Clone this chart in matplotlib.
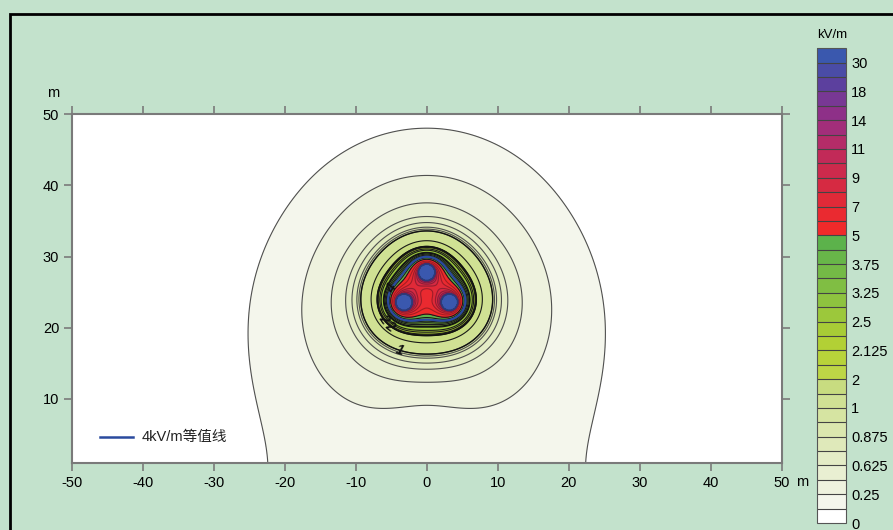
import numpy as np
import matplotlib
matplotlib.use('Agg')
import matplotlib.pyplot as plt
from matplotlib.patches import Rectangle
from matplotlib.colors import to_rgb

plt.rcParams['font.family'] = ['Liberation Sans', 'Noto Sans CJK SC']
plt.rcParams['axes.unicode_minus'] = False

# three-phase line: conductor positions (m) and phase angles (deg)
cond_x = [0.0, -3.2, 3.2]
cond_y = [27.8, 23.6, 23.6]
cond_phase = [0, 120, 240]
cond_radius = 1.15     # m
line_charge = 11.85    # kV  (lambda / 2 pi eps0)
cond_field = 35.0      # value shown inside the conductors
ellipse_smooth = 0.35  # rounds off the cusps where the field is circularly polarised

# colour scale, kV/m
tick_levels = [0, 0.25, 0.625, 0.875, 1, 2, 2.125, 2.5, 3.25, 3.75, 5, 7, 9, 11, 14, 18, 30]
mid_levels = [0.125, 0.4375, 0.75, 0.9375, 1.5, 2.0625, 2.3125, 2.875, 3.5, 4.375,
              6, 8, 10, 12.5, 16, 24, 40]
levels = sorted(tick_levels + mid_levels)
band_colors = ['#ffffff', '#f4f6ec', '#eef2de', '#e9efd2', '#e4ecc6', '#dfe9ba',
               '#dbe7ae', '#d6e4a2', '#d0e194', '#c8dc80', '#bdd646', '#b8d33a',
               '#b2d035', '#a8cc36', '#9cc83b', '#8ec33f', '#80be43', '#74ba46',
               '#68b649', '#5cb24b', '#f02a2a', '#ea2a30', '#e02a38', '#d62a42',
               '#cc2a4c', '#c22a58', '#b42c68', '#a22e7a', '#8e3088', '#783894',
               '#5c409e', '#4a4ca6', '#3a58ae']
label_levels = [1, 2, 3]
iso_level = 4

bg = '#c3e2cc'

# field of the line charges and their images in the ground
x = np.linspace(-50, 50, 1001)
y = np.linspace(0.5, 50, 496)
X, Y = np.meshgrid(x, y)
Ex = np.zeros(X.shape, complex)
Ey = np.zeros(X.shape, complex)
inside = np.zeros(X.shape, bool)
for xc, yc, ph in zip(cond_x, cond_y, cond_phase):
    q = line_charge * np.exp(1j * np.deg2rad(ph))
    dx = X - xc
    dy = Y - yc
    dyi = Y + yc
    r1 = dx**2 + dy**2
    r2 = dx**2 + dyi**2
    Ex += q * (dx / r1 - dx / r2)
    Ey += q * (dy / r1 - dyi / r2)
    inside |= r1 < cond_radius**2
# peak value over one cycle (semi-major axis of the field ellipse), smoothed
A = np.abs(Ex)**2 + np.abs(Ey)**2
B = np.abs(Ex**2 + Ey**2)
d = ellipse_smooth
E = np.sqrt((A + np.sqrt(B**2 + (d * A)**2)) / (1 + np.sqrt(1 + d**2)))
E[inside] = cond_field
E = np.clip(E, 0, 39.9)

fig = plt.figure(figsize=(8.93, 5.30), dpi=100, facecolor=bg)
ax = fig.add_axes([0.0803, 0.1264, 0.7951, 0.6579])

cf = ax.contourf(X, Y, E, levels=levels, colors=band_colors)

line_levels = levels[1:-1]
line_colors = []
for i, lev in enumerate(line_levels):
    if lev <= 1:
        line_colors.append('#505050')
    elif lev <= 5:
        line_colors.append('#1a1a1a')
    else:
        c = np.array(to_rgb(band_colors[i + 1])) * 0.7
        line_colors.append(tuple(c))
ax.contour(X, Y, E, levels=line_levels, colors=line_colors, linewidths=0.8)
ax.contour(X, Y, E, levels=[iso_level], colors='#2a4a9e', linewidths=1.6)

cl = ax.contour(X, Y, E, levels=label_levels, colors='#111111', linewidths=1.0)
ax.clabel(cl, fmt='%d', inline=False, fontsize=10,
          manual=[(-3.8, 17.1), (-5.2, 20.2), (-6.0, 21.3)])
cl4 = ax.contour(X, Y, E, levels=[iso_level], colors='#2a4a9e', linewidths=0)
ax.clabel(cl4, fmt='%d', inline=False, fontsize=10, colors='#111111',
          manual=[(-5.0, 25.5)])
for t in ax.texts:
    t.set_fontstyle('italic')
    t.set_fontweight('bold')

ax.set_xlim(-50, 50)
ax.set_ylim(1, 50)
ax.set_xticks(range(-50, 51, 10))
ax.set_yticks(range(10, 51, 10))
ax.tick_params(direction='out', length=6, width=1.2, color='#7a7a7a',
               top=True, right=True, labelsize=10.5, pad=3)
for s in ax.spines.values():
    s.set_color('#7a7a7a')
    s.set_linewidth(1.5)

# legend entry for the 4 kV/m contour
ax.plot([0.040, 0.086], [0.075, 0.075], color='#2a4a9e', lw=1.8,
        transform=ax.transAxes)
ax.text(0.098, 0.075, '4kV/m等值线', transform=ax.transAxes, fontsize=10.5,
        va='center', ha='left', color='#222222')

fig.text(53 / 893, 1 - 93 / 530, 'm', fontsize=10.5, ha='center', va='center')
fig.text(796 / 893, 1 - 482 / 530, 'm', fontsize=10.5, ha='left', va='center')

# colour bar
cax = fig.add_axes([0.9146, 0.0132, 0.0325, 0.8957])
cb = fig.colorbar(cf, cax=cax, ticks=tick_levels, drawedges=True)
cb.ax.set_yticklabels([f'{v:g}' for v in tick_levels])
cb.ax.tick_params(length=0, pad=4, labelsize=10.5)
cb.dividers.set_color('#444444')
cb.dividers.set_linewidth(0.8)
cb.outline.set_edgecolor('#555555')
cb.outline.set_linewidth(0.8)
fig.text(832 / 893, 1 - 35 / 530, 'kV/m', fontsize=9.5, ha='center', va='center')

# frame
fig.patches.append(Rectangle((10 / 893, -0.1), 1.2, 1 - 14 / 530 + 0.1,
                             transform=fig.transFigure, fill=False,
                             edgecolor='black', lw=2))

fig.savefig('out.png', dpi=100, facecolor=bg)
